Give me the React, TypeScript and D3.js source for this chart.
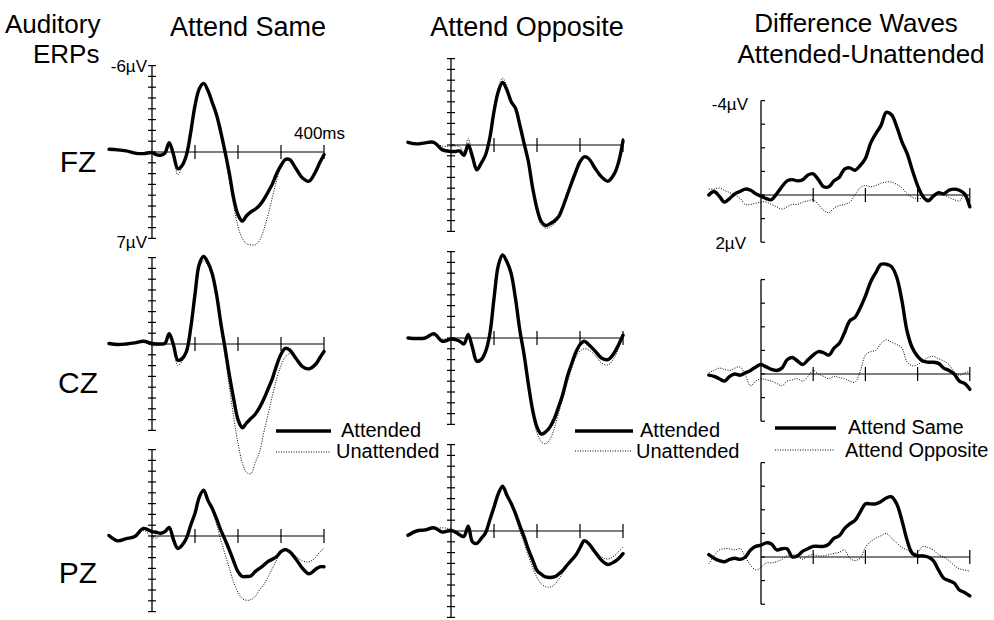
import * as d3 from 'd3';
import React from 'react';

// sample times (ms) for the ERP columns
const TIMES = [-100, -80, -60, -40, -20, 0, 10, 20, 30, 40, 50, 60, 70, 80, 90, 100, 110, 120, 130, 140, 150, 160, 170, 180, 190, 200, 210, 220, 230, 240, 250, 260, 270, 280, 290, 300, 310, 320, 335, 350, 365, 380, 390, 400];

// amplitudes in axis ticks, negative up
const SAME_FZ_ATT = [-0.25, -0.2, -0.1, 0.1, 0.15, 0.05, 0.25, 0.3, 0.1, -0.85, 0.25, 1.55, 1.25, 0.3, -1.8, -4.3, -5.85, -6.35, -5.7, -4.6, -3.45, -1.85, 0, 2.0, 4.3, 5.8, 6.4, 5.9, 5.55, 5.3, 4.95, 4.4, 3.7, 2.95, 2.0, 1.25, 0.7, 0.7, 1.55, 2.4, 2.7, 1.85, 1.0, 0.25];
const SAME_FZ_UNATT = [-0.2, -0.2, -0.1, 0.1, 0.2, 0.1, 0.3, 0.35, 0.2, -0.7, 0.35, 2.1, 1.4, 0.4, -1.7, -4.1, -5.7, -6.25, -5.6, -4.5, -3.2, -1.4, 0.5, 2.7, 5.0, 6.9, 8.0, 8.5, 8.6, 8.6, 8.2, 7.2, 5.8, 4.2, 2.6, 1.3, 0.7, 0.8, 1.6, 2.4, 2.7, 1.9, 1.0, 0.3];
const SAME_CZ_ATT = [-0.05, 0.05, 0, -0.1, -0.25, -0.05, 0, 0, -0.05, -0.95, 0.1, 1.5, 1.35, 0.7, -1.45, -4.6, -7.4, -8.1, -7.55, -6.5, -4.6, -1.95, 0.4, 2.9, 5.1, 7.0, 7.75, 7.3, 6.9, 6.5, 5.9, 5.1, 4.15, 3.2, 1.95, 0.95, 0.4, 0.55, 1.35, 2.1, 2.3, 1.9, 1.3, 0.7];
const SAME_CZ_UNATT = [0, 0.05, 0, -0.1, -0.15, 0.15, 0.15, 0.05, 0, -0.8, 0.3, 2.0, 1.6, 0.8, -1.2, -4.3, -7.0, -7.7, -7.3, -6.2, -4.3, -1.4, 1.2, 4.0, 6.8, 9.2, 11.0, 11.9, 12.0, 11.0, 10.0, 8.2, 6.5, 4.8, 3.2, 2.0, 1.2, 0.9, 1.3, 2.1, 2.4, 1.9, 1.2, 0.5];
const SAME_PZ_ATT = [-0.05, 0.45, 0.25, 0.05, -0.7, -0.4, -0.35, -0.25, -0.4, -0.8, 0.35, 1.15, 0.85, 0.2, -1.0, -2.1, -3.6, -4.25, -3.3, -2.55, -1.6, -0.55, 0.35, 1.3, 2.35, 3.3, 3.75, 3.75, 3.7, 3.3, 3.0, 2.7, 2.35, 2.15, 1.9, 1.45, 1.25, 1.45, 2.15, 3.0, 3.5, 3.1, 2.85, 2.85];
const SAME_PZ_UNATT = [0, 0.4, 0.25, 0.05, -0.5, 0.1, 0.2, -0.1, -0.3, -0.6, 0.4, 1.2, 0.9, 0.3, -0.9, -2.0, -3.5, -4.1, -3.4, -2.4, -1.1, 0.4, 1.7, 3.0, 4.3, 5.2, 5.8, 5.95, 5.9, 5.6, 5.0, 4.5, 3.8, 3.0, 2.2, 1.5, 1.25, 1.4, 1.9, 2.3, 2.4, 2.0, 1.5, 1.15];

const OPP_FZ_ATT = [-0.25, -0.1, -0.2, -0.25, 0.45, 0.6, 0.6, 0.55, 0.95, 0, 1.1, 2.3, 1.7, 0.95, -0.6, -3.1, -4.95, -5.8, -5.1, -4.0, -3.4, -1.85, -0.15, 1.55, 4.0, 5.9, 7.1, 7.45, 7.3, 7.05, 6.65, 5.75, 4.65, 3.55, 2.5, 1.55, 1.1, 1.25, 2.15, 2.95, 3.35, 2.65, 1.55, -0.4];
const OPP_FZ_UNATT = [-0.2, -0.1, -0.2, -0.2, 0.1, 0.1, 0.1, 0.15, 0.6, -0.6, 1.0, 2.2, 1.6, 0.9, -0.8, -3.4, -5.3, -6.2, -5.4, -4.2, -3.5, -1.9, -0.1, 1.7, 4.2, 6.2, 7.4, 7.7, 7.6, 7.3, 6.8, 5.9, 4.8, 3.6, 2.5, 1.55, 1.1, 1.25, 2.15, 2.95, 3.35, 2.65, 1.55, -0.4];
const OPP_CZ_ATT = [0, 0.05, 0, -0.4, 0.3, 0.1, 0.15, 0.3, 0.55, -0.3, 0.9, 2.15, 2.0, 1.3, -0.3, -3.65, -6.7, -7.7, -7.05, -5.95, -3.65, -0.75, 1.55, 4.3, 6.7, 8.25, 8.9, 8.7, 8.25, 7.5, 6.4, 5.2, 3.65, 2.45, 1.35, 0.6, 0.3, 0.6, 1.2, 1.85, 2.0, 1.35, 0.6, -0.25];
const OPP_CZ_UNATT = [0, 0.05, -0.05, -0.2, 0.1, 0.05, 0.1, 0.3, 0.4, -0.5, 0.8, 2.0, 1.9, 1.2, -0.4, -3.5, -6.5, -7.5, -6.9, -5.8, -3.4, -0.4, 1.9, 4.6, 7.1, 8.8, 9.6, 9.8, 9.4, 8.4, 7.0, 5.6, 4.2, 2.9, 1.8, 1.2, 1.0, 1.1, 1.6, 2.3, 2.5, 1.8, 0.9, -0.2];
const OPP_PZ_ATT = [0.4, 0, -0.1, -0.3, 0.1, -0.05, 0.1, 0.35, 0.5, -0.45, 1.0, 1.15, 0.7, 0.2, -1.0, -2.2, -3.45, -4.15, -3.3, -2.55, -1.6, -0.5, 0.55, 1.7, 2.7, 3.65, 4.0, 4.25, 4.3, 4.25, 4.0, 3.65, 3.15, 2.7, 2.25, 1.55, 0.9, 1.15, 1.95, 2.7, 3.1, 2.85, 2.55, 2.1];
const OPP_PZ_UNATT = [0.3, 0.05, 0, -0.2, -0.3, -0.15, 0.1, 0.3, 0.4, -0.35, 0.9, 1.1, 0.7, 0.2, -0.9, -2.1, -3.3, -4.0, -3.2, -2.4, -1.3, 0, 1.1, 2.3, 3.4, 4.3, 4.9, 5.15, 5.2, 5.0, 4.5, 3.9, 3.3, 2.7, 2.2, 1.5, 0.9, 1.1, 1.8, 2.4, 2.6, 2.3, 1.9, 1.5];

// difference waves, µV, every 10 ms
const DIFF_TIMES = [-100, -90, -80, -70, -60, -50, -40, -30, -20, -10, 0, 10, 20, 30, 40, 50, 60, 70, 80, 90, 100, 110, 120, 130, 140, 150, 160, 170, 180, 190, 200, 210, 220, 230, 240, 250, 260, 270, 280, 290, 300, 310, 320, 330, 340, 350, 360, 370, 380, 390, 400];
const DIFF_FZ_SAME = [0, -0.15, 0.05, 0.3, 0.15, -0.05, -0.15, -0.25, -0.2, -0.05, 0.05, 0.15, 0.2, -0.05, -0.35, -0.6, -0.65, -0.6, -0.65, -0.85, -0.9, -0.65, -0.35, -0.35, -0.6, -0.75, -1.1, -1.15, -1.05, -1.25, -1.55, -2.2, -2.6, -2.95, -3.5, -3.4, -2.9, -2.25, -1.75, -1.05, -0.4, 0.05, 0.25, 0.05, -0.1, -0.05, -0.2, -0.25, -0.2, -0.05, 0.5];
const DIFF_FZ_OPP = [-0.25, -0.25, -0.3, -0.2, -0.1, 0, 0.15, 0.4, 0.4, 0.35, 0.3, 0.3, 0.4, 0.5, 0.6, 0.5, 0.4, 0.4, 0.3, 0.25, 0.2, 0.4, 0.65, 0.75, 0.55, 0.45, 0.4, 0.3, 0, -0.3, -0.4, -0.35, -0.4, -0.5, -0.55, -0.55, -0.45, -0.3, -0.05, 0.1, 0.15, 0.15, 0.15, 0.05, -0.05, 0, 0.1, 0.2, 0.25, 0, 0.05];
const DIFF_CZ_SAME = [0.05, 0.1, 0.2, 0.3, 0.1, 0, 0.05, -0.05, -0.15, -0.3, -0.4, -0.3, -0.2, -0.15, -0.25, -0.6, -0.7, -0.55, -0.4, -0.6, -0.8, -0.95, -0.9, -0.8, -1.1, -1.3, -1.75, -2.25, -2.4, -2.8, -3.3, -3.9, -4.3, -4.65, -4.65, -4.55, -4.1, -3.1, -1.8, -1.1, -0.75, -0.55, -0.5, -0.5, -0.45, -0.25, -0.15, 0, 0.3, 0.4, 0.65];
const DIFF_CZ_OPP = [-0.05, -0.15, -0.25, -0.2, -0.15, -0.25, -0.3, 0.05, 0.5, 0.3, 0.2, 0.25, 0.3, 0.4, 0.5, 0.3, 0.25, 0.2, 0.3, 0.1, -0.15, 0, 0.1, 0.2, 0.1, 0.15, 0.2, 0.3, 0.35, -0.1, -0.8, -0.95, -1.0, -1.3, -1.45, -1.35, -1.25, -1.1, -0.5, -0.35, -0.4, -0.55, -0.7, -0.75, -0.65, -0.55, -0.4, -0.1, 0.05, -0.05, -0.1];
const DIFF_PZ_SAME = [-0.1, 0.05, 0.15, 0.2, 0.1, 0.05, 0.1, 0, -0.3, -0.45, -0.5, -0.6, -0.55, -0.3, -0.35, -0.35, 0, -0.05, -0.25, -0.35, -0.45, -0.45, -0.45, -0.55, -0.8, -0.9, -1.2, -1.4, -1.55, -1.9, -2.25, -2.25, -2.25, -2.35, -2.5, -2.55, -2.25, -1.55, -0.7, -0.15, -0.05, -0.05, 0, 0.15, 0.55, 0.9, 1.0, 1.1, 1.4, 1.5, 1.65];
const DIFF_PZ_OPP = [0.3, -0.05, -0.3, -0.35, -0.35, -0.3, -0.35, 0, 0.35, 0.55, 0.45, 0.25, 0.25, 0.2, 0.1, -0.05, -0.1, -0.05, 0.1, -0.05, -0.1, -0.05, -0.05, -0.1, -0.15, -0.2, -0.3, 0.05, 0.15, 0.05, -0.4, -0.65, -0.8, -0.9, -1.0, -0.8, -0.6, -0.4, -0.3, -0.15, -0.2, -0.45, -0.4, -0.3, -0.1, 0, 0.15, 0.35, 0.5, 0.55, 0.6];

const X_TICKS = [100, 200, 300, 400];
const ROW_LABELS = ['FZ', 'CZ', 'PZ'];

const FONT = "'Liberation Sans', Arial, Helvetica, sans-serif";

type PanelProps = {
  x0: number; base: number; msPx: number; unitPx: number;
  up: number; down: number; yTickSide: 'both' | 'right';
  times: number[]; solid: number[]; dotted: number[];
};

const Panel = ({ x0, base, msPx, unitPx, up, down, yTickSide, times, solid, dotted }: PanelProps) => {
  const x = d3.scaleLinear().domain([0, 400]).range([x0, x0 + 400 * msPx]);
  const y = d3.scaleLinear().domain([0, 1]).range([base, base + unitPx]);
  const line = d3.line<number>()
    .x((_, i) => x(times[i]))
    .y(d => y(d))
    .curve(d3.curveCatmullRom.alpha(0.5));
  const yTicks = d3.range(-up, down + 1);
  const tl = yTickSide === 'both' ? -4 : 0;
  return (
    <g>
      <line x1={x0} x2={x0} y1={y(-up)} y2={y(down)} stroke="#000" strokeWidth={1.3} />
      {yTicks.map(t => (
        <line key={t} x1={x0 + tl} x2={x0 + 4} y1={y(t)} y2={y(t)} stroke="#000" strokeWidth={1.2} />
      ))}
      <line x1={x0} x2={x(400)} y1={base} y2={base} stroke="#000" strokeWidth={1.2} />
      {X_TICKS.map(t => (
        <line key={t} x1={x(t)} x2={x(t)} y1={base - 7} y2={base + 7} stroke="#000" strokeWidth={1.2} />
      ))}
      <path d={line(dotted) || ''} fill="none" stroke="#000" strokeWidth={1} strokeDasharray="1,1.5" />
      <path d={line(solid) || ''} fill="none" stroke="#000" strokeWidth={3.4} strokeLinejoin="round" strokeLinecap="round" />
    </g>
  );
};

const App = () => {
  const col1 = [
    { base: 152, up: 8, down: 8, solid: SAME_FZ_ATT, dotted: SAME_FZ_UNATT },
    { base: 344, up: 8, down: 8, solid: SAME_CZ_ATT, dotted: SAME_CZ_UNATT },
    { base: 536, up: 8, down: 7, solid: SAME_PZ_ATT, dotted: SAME_PZ_UNATT },
  ];
  const col2 = [
    { base: 145, up: 8, down: 8, solid: OPP_FZ_ATT, dotted: OPP_FZ_UNATT },
    { base: 338, up: 8, down: 8, solid: OPP_CZ_ATT, dotted: OPP_CZ_UNATT },
    { base: 531, up: 8, down: 8, solid: OPP_PZ_ATT, dotted: OPP_PZ_UNATT },
  ];
  const col3 = [
    { base: 195, solid: DIFF_FZ_SAME, dotted: DIFF_FZ_OPP },
    { base: 374, solid: DIFF_CZ_SAME, dotted: DIFF_CZ_OPP },
    { base: 557, solid: DIFF_PZ_SAME, dotted: DIFF_PZ_OPP },
  ];
  const rowLabelY = [172, 393, 583];

  return (
    <svg width={994} height={620} style={{ position: 'absolute', left: 0, top: 0, background: '#fff' }}
      fontFamily={FONT}>
      <rect width={994} height={620} fill="#fff" />
      {/* titles */}
      <text x={5} y={33} fontSize={26}>Auditory</text>
      <text x={33} y={63} fontSize={26}>ERPs</text>
      <text x={248} y={36} fontSize={27} textAnchor="middle">Attend Same</text>
      <text x={527} y={36} fontSize={27} textAnchor="middle">Attend Opposite</text>
      <text x={856} y={32} fontSize={26} textAnchor="middle">Difference Waves</text>
      <text x={861} y={63} fontSize={26} textAnchor="middle">Attended-Unattended</text>

      {ROW_LABELS.map((r, i) => (
        <text key={r} x={78} y={rowLabelY[i]} fontSize={30} textAnchor="middle">{r}</text>
      ))}

      {col1.map((p, i) => (
        <Panel key={'a' + i} x0={152} base={p.base} msPx={0.43} unitPx={10.8} up={p.up} down={p.down}
          yTickSide="both" times={TIMES} solid={p.solid} dotted={p.dotted} />
      ))}
      {col2.map((p, i) => (
        <Panel key={'b' + i} x0={451} base={p.base} msPx={0.43} unitPx={10.8} up={p.up} down={p.down}
          yTickSide="both" times={TIMES} solid={p.solid} dotted={p.dotted} />
      ))}
      {col3.map((p, i) => (
        <Panel key={'c' + i} x0={761} base={p.base} msPx={0.522} unitPx={23.6} up={4} down={2}
          yTickSide="right" times={DIFF_TIMES} solid={p.solid} dotted={p.dotted} />
      ))}

      {/* axis labels */}
      <text x={147} y={72} fontSize={17} textAnchor="end">-6µV</text>
      <text x={147} y={248} fontSize={17} textAnchor="end">7µV</text>
      <text x={294} y={139} fontSize={17}>400ms</text>
      <text x={748} y={110} fontSize={17} textAnchor="end">-4µV</text>
      <text x={746} y={249} fontSize={17} textAnchor="end">2µV</text>

      {/* legends */}
      <line x1={276} x2={331} y1={431} y2={431} stroke="#000" strokeWidth={3.4} />
      <text x={341} y={437} fontSize={20}>Attended</text>
      <line x1={276} x2={330} y1={452} y2={452} stroke="#000" strokeWidth={1} strokeDasharray="1,1.5" />
      <text x={336} y={458} fontSize={20}>Unattended</text>

      <line x1={575} x2={633} y1={431} y2={431} stroke="#000" strokeWidth={3.4} />
      <text x={640} y={437} fontSize={20}>Attended</text>
      <line x1={575} x2={632} y1={451} y2={451} stroke="#000" strokeWidth={1} strokeDasharray="1,1.5" />
      <text x={636} y={458} fontSize={20}>Unattended</text>

      <line x1={775} x2={836} y1={428} y2={428} stroke="#000" strokeWidth={3.4} />
      <text x={848} y={434} fontSize={20}>Attend Same</text>
      <line x1={775} x2={835} y1={450} y2={450} stroke="#000" strokeWidth={1} strokeDasharray="1,1.5" />
      <text x={845} y={457} fontSize={20}>Attend Opposite</text>
    </svg>
  );
};

export default App;
